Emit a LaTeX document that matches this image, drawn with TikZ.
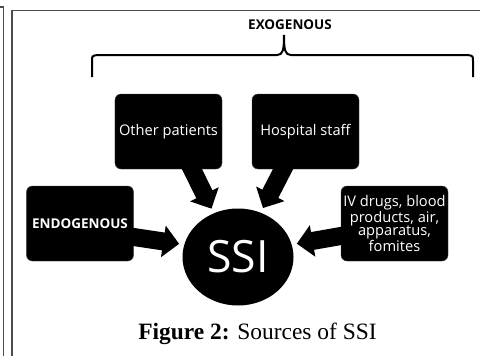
\documentclass[tikz,border=0pt]{standalone}
\usepackage{fontspec}
\setmainfont{Liberation Serif}
\newfontfamily\boxfont{Open Sans}
\usetikzlibrary{shapes.geometric, arrows.meta}

\begin{document}
\begin{tikzpicture}[x=0.3mm, y=-0.3mm,
	srcbox/.style={shape=rectangle, draw=black!75, fill=black, rounded corners=1.8mm, minimum width=32.1mm, minimum height=22.5mm, text=white, align=center, inner sep=1pt, font=\boxfont\fontsize{12.5}{11.5}\selectfont},
	srcarrow/.style={line width=5.4mm, -{Triangle[width=9.3mm, length=4.8mm]}, shorten <=-2mm, shorten >=1.5mm},
	frameline/.style={draw=black!70, line width=0.4mm}]
	% Frame, brace and labels:
	\useasboundingbox (0, 0) rectangle (480, 356);
	\draw[frameline] (0, 7) -| (3.5, 356);
	\draw[frameline] (480, 10.5) -| (12, 356);
	\node[font=\boxfont\bfseries\fontsize{11.5}{12}\selectfont] (exo) at (290, 25){EXOGENOUS};
	\draw[line width=0.6mm] (92, 77) -- (92, 61) .. controls (92, 56) .. (97, 55) -- (277, 55) .. controls (283, 55) and (284, 50) .. (284, 35) .. controls (284, 50) and (285, 55) .. (291, 55) -- (468, 55) .. controls (473, 56) .. (473, 61) -- (473, 77);
	% Sources and the infection:
	\node[srcbox] (other) at (168.5, 131.5){Other patients};
	\node[srcbox] (staff) at (305.5, 131.5){Hospital staff};
	\node[srcbox, font=\boxfont\bfseries\fontsize{11.5}{11}\selectfont] (endo) at (80, 223.5){ENDOGENOUS};
	\node[srcbox] (iv) at (394.5, 223.5){IV drugs, blood\\products, air,\\apparatus,\\fomites};
	\node[shape=ellipse, fill=black, minimum width=33.3mm, minimum height=29.1mm, inner sep=0pt, text=white, font=\boxfont\fontsize{38}{38}\selectfont] (ssi) at (238, 257){SSI};
	\draw[srcarrow] ([shift={(23.5, 0)}]other.south) -- (ssi.119);
	\draw[srcarrow] ([shift={(-22.5, 0)}]staff.south) -- (ssi.63);
	\draw[srcarrow] ([shift={(0, 13.5)}]endo.east) -- (ssi.167);
	\draw[srcarrow] ([shift={(0, 12.5)}]iv.west) -- (ssi.13);
	\node[anchor=base, font=\fontsize{20}{24}\selectfont] (caption) at (257.5, 339){\textbf{Figure 2:} Sources of SSI};
\end{tikzpicture}
\end{document}
